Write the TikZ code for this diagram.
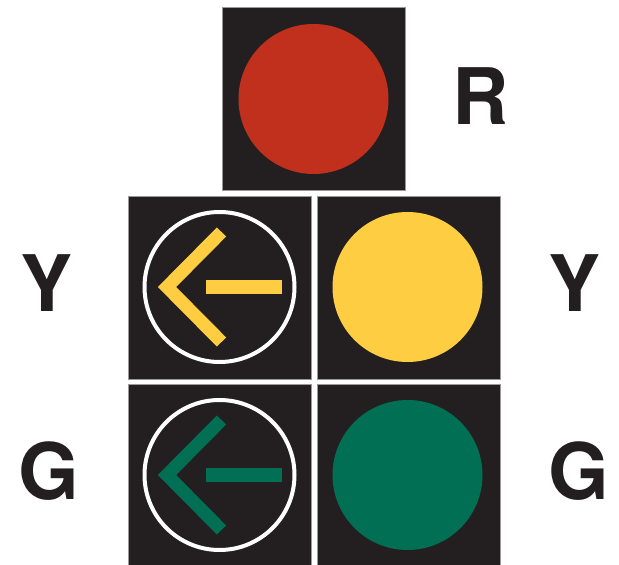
\documentclass[tikz,border=0pt]{standalone}
\usepackage{fontspec}
\setmainfont{TeX Gyre Heros}
\definecolor{boxdark}{HTML}{231F20}
\definecolor{sigred}{HTML}{C1301C}
\definecolor{sigyellow}{HTML}{FECD41}
\definecolor{siggreen}{HTML}{006F53}
\definecolor{edgegray}{HTML}{9A9899}
\begin{document}
\begin{tikzpicture}[x=1pt,y=1pt,
  housing/.style={rectangle,fill=boxdark,draw=edgegray,line width=0.8pt,inner sep=0pt,minimum width=183pt,minimum height=183pt},
  lamp/.style={circle,inner sep=0pt,minimum size=150pt},
  ring/.style={circle,draw=white,line width=4pt,inner sep=0pt,minimum size=150pt},
  letter/.style={inner sep=0pt,text=boxdark,font=\fontsize{78}{78}\selectfont\bfseries},
  chev/.style={line width=13pt,line join=miter,line cap=butt}]
\useasboundingbox (0,0) rectangle (619,565);
\fill[white] (0,0) rectangle (619,565);
% housings
\node[housing] (top) at (313.5,466) {};
\node[housing] (ml) at (219.5,277.5) {};
\node[housing] (mr) at (408.5,277.5) {};
\node[housing,minimum height=182pt] (bl) at (219.5,90) {};
\node[housing,minimum height=182pt] (br) at (408.5,90) {};
% lamps
\node[lamp,fill=sigred] (red) at (313.5,466) {};
\node[lamp,fill=sigyellow] (yel) at (407.5,278) {};
\node[lamp,fill=siggreen] (grn) at (407.5,90) {};
% arrow lamps
\node[ring] (yring) at (219.5,278) {};
\node[ring] (gring) at (219.5,90) {};
\coordinate (ytip) at ([xshift=-52.5pt]yring.center);
\coordinate (gtip) at ([xshift=-52.5pt]gring.center);
\draw[chev,sigyellow] ([shift={(54.5pt,55pt)}]ytip) -- (ytip) -- ([shift={(54.5pt,-55pt)}]ytip);
\fill[sigyellow] ([shift={(-13.5pt,-7pt)}]yring.center) rectangle ([shift={(62pt,7pt)}]yring.center);
\draw[chev,siggreen] ([shift={(54.5pt,55pt)}]gtip) -- (gtip) -- ([shift={(54.5pt,-55pt)}]gtip);
\fill[siggreen] ([shift={(-13.5pt,-7pt)}]gring.center) rectangle ([shift={(62pt,7pt)}]gring.center);
% letters
\node[letter] (lR) at (481,469) {R};
\node[letter] (lYl) at (47,282) {Y};
\node[letter] (lGl) at (48.5,93.5) {G};
\node[letter] (lYr) at (575,282) {Y};
\node[letter] (lGr) at (579,93.5) {G};
\end{tikzpicture}
\end{document}
